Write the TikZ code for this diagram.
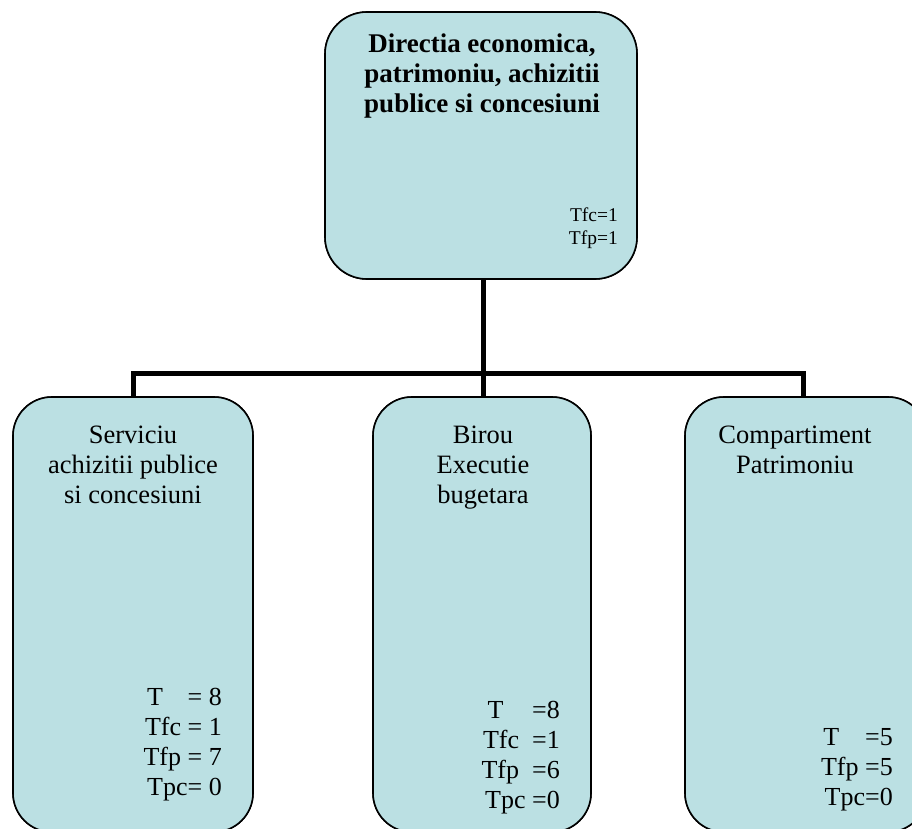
\documentclass[tikz,border=0pt]{standalone}
\usepackage{fontspec}
\setmainfont{Liberation Serif}
\definecolor{boxfill}{RGB}{187,224,227}
\tikzset{
  unitbox/.style={draw=black, line width=1.6pt, fill=boxfill, rounded corners=39pt, inner sep=0pt},
  conn/.style={line width=5pt, line join=miter},
  titletext/.style={font=\fontsize{26.5}{30}\selectfont, align=center, inner sep=0pt, anchor=base},
  counttext/.style={font=\fontsize{26}{30}\selectfont, align=right, inner sep=0pt, anchor=base east},
}
\begin{document}
\begin{tikzpicture}[x=1pt,y=-1pt]
\useasboundingbox (0,0) rectangle (912,829);
\clip (0,0) rectangle (912,829);
% boxes (geometry)
\path (481,145.5) node[unitbox, minimum width=312pt, minimum height=267pt, rounded corners=42pt] (top) {};
\path (133,614.5) node[unitbox, minimum width=240pt, minimum height=435pt] (left) {};
\path (482,614.5) node[unitbox, minimum width=218pt, minimum height=435pt] (mid) {};
\path (806,614.5) node[unitbox, minimum width=242pt, minimum height=435pt] (right) {};
% connectors
\coordinate (j) at (483,373);
\draw[conn] (483,279) coordinate (ts) -- (j);
\draw[conn] (left.north) |- (j);
\draw[conn] (mid.north -| j) -- (j);
\draw[conn] (803,397) coordinate (rn) |- (j);
% redraw boxes on top of connector ends
\path (481,145.5) node[unitbox, minimum width=312pt, minimum height=267pt, rounded corners=42pt] (topb) {};
\path (133,614.5) node[unitbox, minimum width=240pt, minimum height=435pt] (leftb) {};
\path (482,614.5) node[unitbox, minimum width=218pt, minimum height=435pt] (midb) {};
\path (806,614.5) node[unitbox, minimum width=242pt, minimum height=435pt] (rightb) {};
% texts (anchor = baseline of last line)
\node[titletext, font=\bfseries\fontsize{27}{30}\selectfont] (toptitle) at (482,113)
  {Directia economica,\\patrimoniu, achizitii\\publice si concesiuni};
\node[counttext, font=\fontsize{19.5}{22.5}\selectfont] (topcount) at (618,244) {Tfc=1\\Tfp=1};
\node[titletext] (lefttitle) at (133,503) {Serviciu\\achizitii publice\\si concesiuni};
\node[counttext] (leftcount) at (222,795) {T\hspace{0.95em}= 8\\Tfc = 1\\Tfp = 7\\Tpc= 0};
\node[titletext] (midtitle) at (483,503) {Birou\\Executie\\bugetara};
\node[counttext] (midcount) at (560,808) {T\hspace{1.1em}=8\\Tfc\ \ =1\\Tfp\ \ =6\\Tpc =0};
\node[titletext] (righttitle) at (795,473) {Compartiment\\Patrimoniu};
\node[counttext] (rightcount) at (893,805) {T\hspace{1em}=5\\Tfp =5\\Tpc=0};
\end{tikzpicture}
\end{document}
